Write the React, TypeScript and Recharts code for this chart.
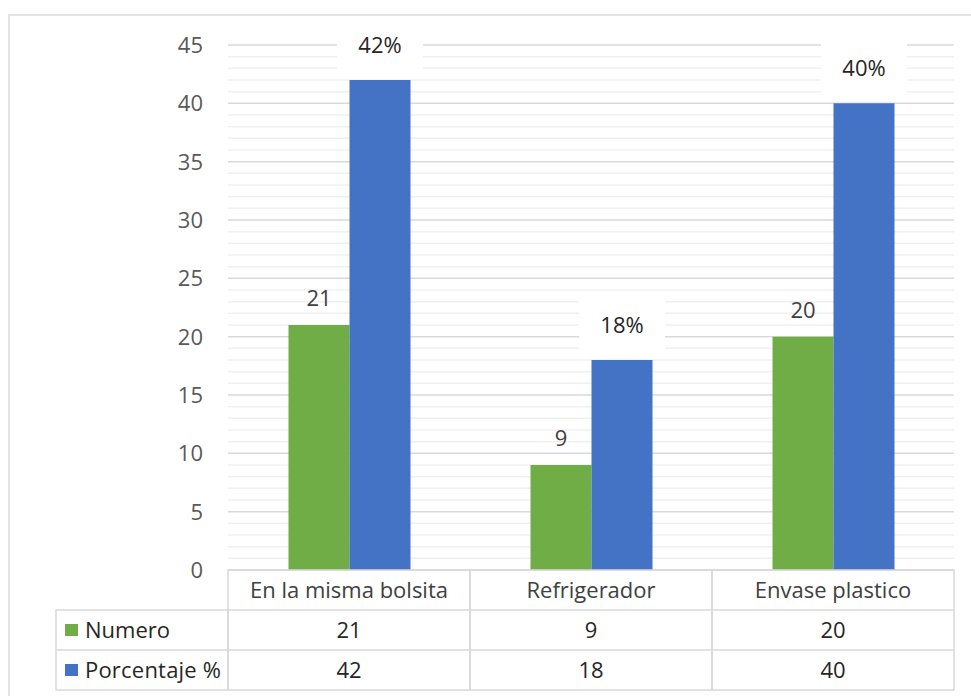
import { BarChart, Bar, XAxis, YAxis, CartesianGrid, LabelList } from "recharts";

const categories = ["En la misma bolsita", "Refrigerador", "Envase plastico"];
const numero = [21, 9, 20];
const porcentaje = [42, 18, 40];
const seriesNames = ["Numero", "Porcentaje %"];
const seriesColors = ["#70AD47", "#4472C4"];
const yTickLabels = [0, 5, 10, 15, 20, 25, 30, 35, 40, 45];
const minorTicks = Array.from({ length: 46 }, (_, i) => i);

const data = categories.map((name, i) => ({
  name,
  numero: numero[i],
  porcentaje: porcentaje[i],
}));

const W = 971;
const H = 696;
const TOP = 45;
const RIGHT = 17;
const YW = 228;
const XH = 126;
const PLOT_BOTTOM = H - XH;
const UNIT = (PLOT_BOTTOM - TOP) / 45;
const CELL = (W - RIGHT - YW) / categories.length;
const ROW = 40;
const LEFT_COL = 56;
const FONT = "'Open Sans', Lato, sans-serif";
const FS = 22;
const BORDER = "#d9d9d9";
const TEXT = "#262626";

function YTick(props: any) {
  const { x, y, payload } = props;
  if (!yTickLabels.includes(payload.value)) return null;
  return (
    <text x={x} y={y} dy="0.36em" textAnchor="end" fontFamily={FONT} fontSize={FS} fill="#595959">
      {payload.value}
    </text>
  );
}

function GridLine(props: any) {
  const { x1, x2, y1, y2, index } = props;
  const v = Math.round((PLOT_BOTTOM - y1) / UNIT);
  const major = v % 5 === 0;
  return (
    <line
      key={`g-${index}-${y1}`}
      x1={x1}
      x2={x2}
      y1={y1}
      y2={y2}
      stroke={major ? "#d9d9d9" : "#f0f0f0"}
      strokeWidth={1.5}
    />
  );
}

function TableTick(props: any) {
  const { x, payload, index } = props;
  const y0 = PLOT_BOTTOM;
  const left = x - CELL / 2;
  const values = [numero[index], porcentaje[index]];
  return (
    <g>
      <rect x={left} y={y0} width={CELL} height={ROW * 3} fill="none" stroke={BORDER} strokeWidth={1.5} />
      <line x1={left} x2={left + CELL} y1={y0 + ROW} y2={y0 + ROW} stroke={BORDER} strokeWidth={1.5} />
      <line x1={left} x2={left + CELL} y1={y0 + ROW * 2} y2={y0 + ROW * 2} stroke={BORDER} strokeWidth={1.5} />
      <text x={x} y={y0 + ROW / 2} dy="0.36em" textAnchor="middle" fontFamily={FONT} fontSize={FS} fill="#404040">
        {payload.value}
      </text>
      {values.map((v, r) => (
        <text
          key={r}
          x={x}
          y={y0 + ROW * (r + 1) + ROW / 2}
          dy="0.36em"
          textAnchor="middle"
          fontFamily={FONT}
          fontSize={FS}
          fill={TEXT}
        >
          {v}
        </text>
      ))}
      {index === 0 && (
        <g>
          <rect
            x={LEFT_COL}
            y={y0 + ROW}
            width={left - LEFT_COL}
            height={ROW * 2}
            fill="none"
            stroke={BORDER}
            strokeWidth={1.5}
          />
          <line x1={LEFT_COL} x2={left} y1={y0 + ROW * 2} y2={y0 + ROW * 2} stroke={BORDER} strokeWidth={1.5} />
          {seriesNames.map((s, r) => (
            <g key={s}>
              <rect x={65} y={y0 + ROW * (r + 1) + 14} width={13} height={12} fill={seriesColors[r]} />
              <text
                x={85}
                y={y0 + ROW * (r + 1) + ROW / 2}
                dy="0.36em"
                fontFamily={FONT}
                fontSize={FS}
                textLength={s.length > 8 ? 136 : undefined}
                fill={TEXT}
              >
                {s}
              </text>
            </g>
          ))}
        </g>
      )}
    </g>
  );
}

function GreenLabel(props: any) {
  const { x, y, width, value } = props;
  return (
    <text x={x + width / 2} y={y - 27} dy="0.36em" textAnchor="middle" fontFamily={FONT} fontSize={FS} fill="#404040">
      {value}
    </text>
  );
}

function BlueLabel(props: any) {
  const { x, y, width, value } = props;
  const cx = x + width / 2;
  const cy = y - 35;
  return (
    <g>
      <rect x={cx - 43} y={cy - 26} width={86} height={52} fill="#ffffff" />
      <text x={cx} y={cy} dy="0.36em" textAnchor="middle" fontFamily={FONT} fontSize={FS} fill={TEXT}>
        {`${value}%`}
      </text>
    </g>
  );
}

export default function App() {
  return (
    <div style={{ position: "absolute", left: 0, top: 0, width: W, height: H, background: "#fff", overflow: "hidden" }}>
      <div
        style={{
          position: "absolute",
          left: 8,
          top: 14,
          width: W,
          height: H,
          borderLeft: "2px solid #e3e3e3",
          borderTop: "2px solid #e3e3e3",
        }}
      />
      <div style={{ position: "absolute", left: 0, top: 0 }}>
        <BarChart
          width={W}
          height={H}
          data={data}
          margin={{ top: TOP, right: RIGHT, bottom: 0, left: 0 }}
          barCategoryGap="25%"
          barGap={0}
        >
          <CartesianGrid vertical={false} horizontal={GridLine as any} />
          <XAxis
            dataKey="name"
            height={XH}
            axisLine={false}
            tickLine={false}
            tickSize={0}
            tickMargin={0}
            interval={0}
            tick={<TableTick />}
          />
          <YAxis
            width={YW}
            domain={[0, 45]}
            ticks={minorTicks}
            interval={0}
            axisLine={false}
            tickLine={false}
            tickSize={0}
            tickMargin={25}
            tick={<YTick />}
          />
          <Bar dataKey="numero" name={seriesNames[0]} fill={seriesColors[0]} isAnimationActive={false}>
            <LabelList dataKey="numero" content={<GreenLabel />} />
          </Bar>
          <Bar dataKey="porcentaje" name={seriesNames[1]} fill={seriesColors[1]} isAnimationActive={false}>
            <LabelList dataKey="porcentaje" content={<BlueLabel />} />
          </Bar>
        </BarChart>
      </div>
    </div>
  );
}
